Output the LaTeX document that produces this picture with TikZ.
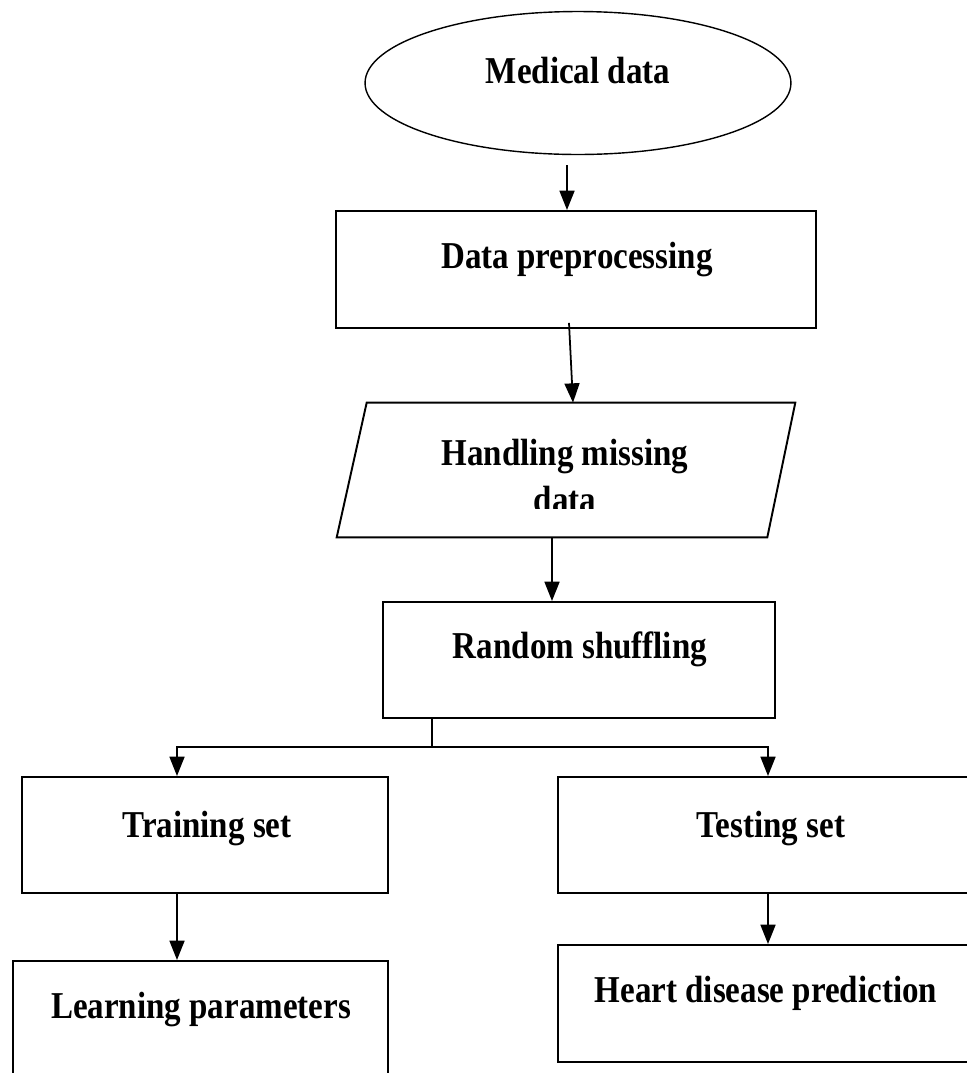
\documentclass[tikz,border=0pt]{standalone}
\usepackage{fontspec}
\newfontfamily\lblfont[FakeStretch=0.87]{Liberation Serif}
\usetikzlibrary{shapes.geometric,arrows.meta}
\begin{document}
\begin{tikzpicture}[x=0.02cm,y=-0.02cm,
  box/.style={draw, line width=1.1pt, rectangle, inner sep=0pt},
  txt/.style={font=\lblfont\bfseries\fontsize{21.6}{26}\selectfont, inner sep=0pt, anchor=base},
  arr/.style={-{Triangle[length=11pt,width=8.5pt]}, line width=1pt}]
\useasboundingbox (0,0) rectangle (967,1073);
\clip (0,0) rectangle (967,1073);
\fill[white] (0,0) rectangle (967,1073);

% Medical data
\node[ellipse, draw, line width=0.8pt, inner sep=0pt, minimum width=8.52cm, minimum height=2.86cm] (med) at (578,83) {};
\node[txt] (medT) at (578,83) {Medical data};

% Data preprocessing
\node[box, minimum width=9.6cm, minimum height=2.34cm] (pre) at (576,269.5) {};
\node[txt] (preT) at (577,268) {Data preprocessing};

% Handling missing data (parallelogram)
\node[inner sep=0pt, minimum width=9.16cm, minimum height=2.68cm] (hand) at (566,470) {};
\draw[line width=1.1pt] ([shift={(30,0)}]hand.north west) -- (hand.north east)
  -- ([shift={(-28,0)}]hand.south east) -- (hand.south west) -- cycle;
\node[txt] (handT) at (565,465) {Handling missing};
\begin{scope}
  \clip (400,480) rectangle (730,508);
  \node[txt] (handT2) at (565,512) {data};
\end{scope}

% Random shuffling
\node[box, minimum width=7.84cm, minimum height=2.32cm] (rand) at (579,660) {};
\node[txt] (randT) at (580,658) {Random shuffling};

% Training set
\node[box, minimum width=7.32cm, minimum height=2.32cm] (train) at (205,835) {};
\node[txt] (trainT) at (207,837) {Training set};

% Testing set
\node[box, minimum width=8.52cm, minimum height=2.32cm] (test) at (771,835) {};
\node[txt] (testT) at (771,837) {Testing set};

% Learning parameters
\node[box, minimum width=7.5cm, minimum height=2.34cm] (learn) at (200.5,1019.5) {};
\node[txt] (learnT) at (201,1018) {Learning parameters};

% Heart disease prediction
\node[box, minimum width=8.44cm, minimum height=2.34cm] (heart) at (769,1003.5) {};
\node[txt] (heartT) at (766,1002) {Heart disease prediction};

% Connectors
\draw[arr] ([shift={(-11,10)}]med.south) -- ([shift={(-9,0)}]pre.north);
\draw[arr] ([shift={(-7,-6)}]pre.south) -- ([shift={(7,0)}]hand.north);
\draw[arr] ([shift={(-14,0)}]hand.south) -- ([shift={(-14,0)}]hand.south |- rand.north);
\coordinate (br) at (432,747);
\draw[line width=1pt] ([shift={(-147,0)}]rand.south) -- (br);
\draw[arr] (br) -| ([shift={(-28,0)}]train.north);
\draw[arr] (br) -| ([shift={(-3,0)}]test.north);
\draw[arr] ([shift={(-28,0)}]train.south) -- ([shift={(-23.5,0)}]learn.north);
\draw[arr] ([shift={(-3,0)}]test.south) -- ([shift={(-1,0)}]heart.north);
\end{tikzpicture}
\end{document}
